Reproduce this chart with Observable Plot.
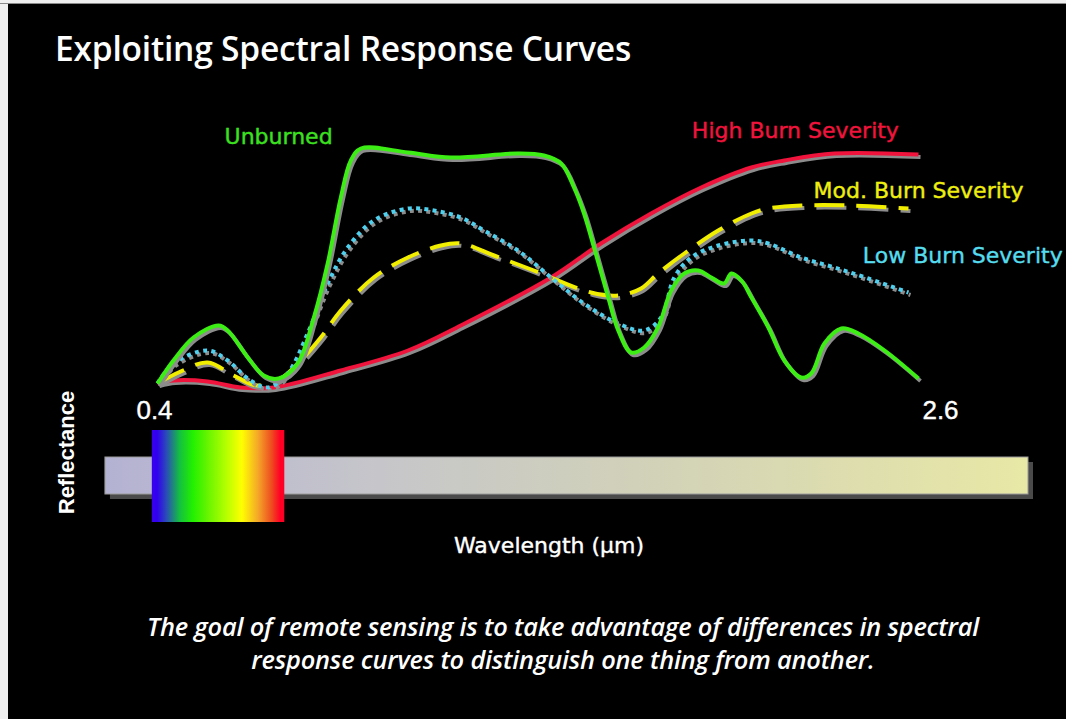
<!DOCTYPE html>
<html>
<head>
<meta charset="utf-8">
<script src="https://cdn.jsdelivr.net/npm/d3@7"></script>
<script src="https://cdn.jsdelivr.net/npm/@observablehq/plot@0.6"></script>
<style>
  html, body { margin: 0; padding: 0; background: #efefef; }
  #slide { position: absolute; left: 8px; top: 4px; width: 1058px; height: 715px; background: #000; overflow: hidden; }
  #topline { position: absolute; left: 0; top: 3px; width: 1066px; height: 1px; background: #8a8a8a; }
  #title { position: absolute; left: 47px; top: 23px; color: #fff; font-family: "Open Sans", sans-serif; font-weight: 600; font-size: 33.5px; line-height: 42px; white-space: nowrap; letter-spacing: -0.2px; }
  #caption { position: absolute; left: 26px; width: 1058px; top: 606px; color: #fff; font-family: "Open Sans", sans-serif; font-style: italic; font-weight: 600; font-size: 25.4px; line-height: 33px; text-align: center; letter-spacing: -0.2px; }
  #chart { position: absolute; left: 0; top: 0; }
</style>
</head>
<body>
<div id="topline"></div>
<div id="slide">
  <div id="chart"></div>
  <div id="title">Exploiting Spectral Response Curves</div>
  <div id="caption">The goal of remote sensing is to take advantage of differences in spectral<br>response curves to distinguish one thing from another.</div>
</div>
<script>
// Wavelength (µm) and relative reflectance
const unburnedWl = [0.400,0.446,0.504,0.577,0.603,0.661,0.707,0.750,0.805,0.852,0.892,0.930,0.959,0.988,1.124,1.248,1.442,1.517,1.567,1.604,1.633,1.662,1.703,1.732,1.769,1.807,1.847,1.885,1.923,1.963,2.001,2.038,2.059,2.088,2.117,2.166,2.212,2.261,2.290,2.328,2.377,2.426,2.502,2.600];
const unburnedR  = [2.8,12,21.2,26,24,13.2,6,4.8,10.8,29.2,50.8,77.2,92,96.8,95.2,93.2,94.8,94,90.8,81.2,70.8,57.2,37.2,24,15.2,17.2,25.2,40,46.8,48,45.2,42.8,46.8,44,37.2,25.2,12,5.2,6.8,18.8,24.8,22.8,16,4.8];

const highWl = [0.400,0.446,0.545,0.640,0.736,0.930,1.124,1.277,1.538,1.682,1.827,1.972,2.117,2.212,2.357,2.600];
const highR  = [2.8,4,3.6,1.2,1.2,8,16,26,45.2,58.8,70.8,81.2,89.2,92,94.8,94.4];

const modWl = [0.400,0.467,0.545,0.620,0.689,0.756,0.814,0.872,0.930,1.025,1.124,1.219,1.277,1.373,1.488,1.653,1.732,1.798,1.847,1.923,2.021,2.117,2.166,2.261,2.406,2.571];
const modR  = [2.8,7.6,11.2,6,2,4.8,12,21.2,32,45.2,53.2,58,58.8,54,48,39.2,38,40.8,46.8,54.8,64,70.8,72.8,74,74,72.8];

const lowWl = [0.400,0.446,0.545,0.603,0.661,0.718,0.776,0.834,0.892,0.950,1.025,1.124,1.199,1.277,1.344,1.442,1.538,1.633,1.732,1.807,1.856,1.894,1.943,2.021,2.117,2.166,2.261,2.357,2.455,2.571];
const lowR  = [2.8,10.8,16,12,4.8,1.2,6.8,22.8,42.8,57.2,68,72.8,72,69.2,64,56,45.2,34.8,26.8,24,29.2,45.2,53.2,58,60,58.8,53.2,49.2,44.8,39.2];

const seriesNames  = ["High Burn Severity", "Mod. Burn Severity", "Low Burn Severity", "Unburned"];
const seriesColors = ["#f0143c", "#f2ee00", "#4fd0ee", "#3cee14"];
const labelColors  = ["#f0143c", "#eeee10", "#55dcee", "#3ce020"];
const labelWl = [2.244, 2.60, 2.728, 0.750];
const labelR  = [104, 80, 54, 101.6];

const tickValues = [0.4, 2.6];
const tickLabels = ["0.4", "2.6"];

// visible spectrum band and the full sensed band (µm)
const visibleBand = [0.385, 0.768];
const sensedBand = [0.2495, 2.918];

const toRows = (wl, r) => wl.map((w, i) => ({w, r: r[i]}));
const rows = [toRows(highWl, highR), toRows(modWl, modR), toRows(lowWl, lowR), toRows(unburnedWl, unburnedR)];
const dashes = [null, "30,12", "4,4.3", null];

const lineMarks = [];
rows.forEach((data, i) => {
  lineMarks.push(Plot.line(data, {x: "w", y: "r", curve: "catmull-rom", stroke: "#8c8c8c", strokeWidth: 4, dx: 2, dy: 2.5, strokeDasharray: dashes[i], strokeLinecap: "butt"}));
  lineMarks.push(Plot.line(data, {x: "w", y: "r", curve: "catmull-rom", stroke: seriesColors[i], strokeWidth: 4, strokeDasharray: dashes[i], strokeLinecap: "butt"}));
});

const labels = seriesNames.map((name, i) => ({name, w: labelWl[i], r: labelR[i], c: labelColors[i]}));
const ticks = tickValues.map((v, i) => ({v, t: tickLabels[i]}));

const chart = Plot.plot({
  width: 1058,
  height: 715,
  margin: 0,
  style: {background: "transparent", overflow: "visible"},
  x: {domain: [0.4, 2.6], range: [149, 910], axis: null},
  y: {domain: [0, 100], range: [386, 136], axis: null},
  marks: [
    Plot.rect([{}], {x1: sensedBand[0], x2: sensedBand[1], y1: -26.8, y2: -41.6, fill: "#4a4a4a", dx: 5, dy: 5}),
    Plot.rect([{}], {x1: sensedBand[0], x2: sensedBand[1], y1: -26.8, y2: -41.6, fill: "url(#sensed)", stroke: "#9a9a9a", strokeWidth: 1}),
    Plot.rect([{}], {x1: visibleBand[0], x2: visibleBand[1], y1: -16, y2: -52.8, fill: "url(#spectrum)"}),
    ...lineMarks,
    Plot.text(labels, {x: "w", y: "r", text: "name", fill: "c", stroke: "c", strokeWidth: 0.4, fontSize: 22, fontFamily: "DejaVu Sans", textAnchor: "middle"}),
    Plot.text(ticks, {x: "v", y: -8, text: "t", fill: "#fff", stroke: "#fff", strokeWidth: 0.4, fontSize: 26, fontFamily: "Liberation Sans, Arial", textAnchor: "middle"}),
    Plot.text(["Reflectance"], {x: 0.139, y: -24.8, text: d => d, fill: "#fff", fontSize: 22, fontWeight: "bold", fontFamily: "Liberation Sans, Arial", rotate: -90, textAnchor: "middle"}),
    Plot.text(["Wavelength (µm)"], {x: 1.532, y: -62, text: d => d, fill: "#fff", stroke: "#fff", strokeWidth: 0.4, fontSize: 22, fontFamily: "DejaVu Sans", textAnchor: "middle"})
  ]
});

// gradients for the two bands
const svg = d3.select(chart);
const defs = svg.insert("defs", ":first-child");
const spec = defs.append("linearGradient").attr("id", "spectrum").attr("x1", 0).attr("x2", 1).attr("y1", 0).attr("y2", 0);
[[0, "#3a00f0"], [0.04, "#3000ee"], [0.11, "#2a4cb8"], [0.21, "#14c040"], [0.31, "#22f000"], [0.42, "#66f400"], [0.56, "#b4ff00"], [0.68, "#ffff00"], [0.8, "#f4a828"], [0.9, "#ee5020"], [0.97, "#ff0024"], [1, "#ff0024"]]
  .forEach(([o, c]) => spec.append("stop").attr("offset", o).attr("stop-color", c));
const sensed = defs.append("linearGradient").attr("id", "sensed").attr("x1", 0).attr("x2", 1).attr("y1", 0).attr("y2", 0);
[[0, "#b4b2d2"], [0.3, "#c6c6ca"], [0.6, "#d2d2b8"], [1, "#e8e8a6"]]
  .forEach(([o, c]) => sensed.append("stop").attr("offset", o).attr("stop-color", c));

// place tick labels like the reference (slightly outside the curve ends)
svg.selectAll("text").filter(function() { return this.textContent === "2.6"; }).attr("dx", 22);
svg.selectAll("text").filter(function() { return this.textContent === "0.4"; }).attr("dx", -3);

document.getElementById("chart").appendChild(chart);
</script>
</body>
</html>
